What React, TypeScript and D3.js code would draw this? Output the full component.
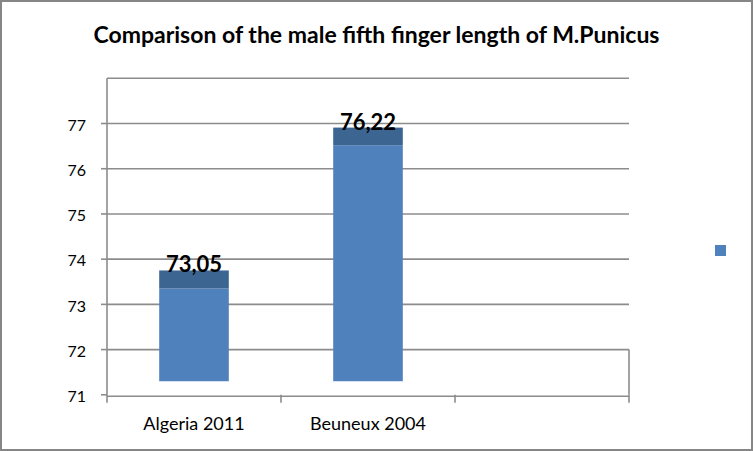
// Male fifth finger length comparison - D3 bar chart with dark top caps

import { useEffect, useRef } from "react";
import * as d3 from "d3";

const categories = ["Algeria 2011", "Beuneux 2004", ""];
const valueLabels = ["73,05", "76,22"];
// bar segments in axis units: base, light part top, dark cap top
const barBase = [71.3, 71.3];
const lowerTop = [73.35, 76.52];
const capTop = [73.75, 76.91];
const yTicks = [71, 72, 73, 74, 75, 76, 77];
const yMax = 78;

const W = 753;
const H = 451;
const FONT = "Lato, 'Open Sans', sans-serif";

export default function App() {
  const svgRef = useRef<SVGSVGElement>(null);

  useEffect(() => {
    if (!svgRef.current) return;
    const svg = d3.select(svgRef.current);
    svg.selectAll("*").remove();

    const left = 107;
    const right = 629;
    const top = 78.3;
    const bottom = 394.8;
    const grid = "#8c8c8c";

    const x = d3.scaleBand<string>().domain(categories).range([left, right]);
    const xBar = d3
      .scaleBand<string>()
      .domain(categories)
      .range([left, right])
      .paddingInner(0.6)
      .paddingOuter(0.3);
    const y = d3.scaleLinear().domain([71, yMax]).range([bottom, top]);

    // outer frame
    svg
      .append("rect")
      .attr("x", 1)
      .attr("y", 1)
      .attr("width", W - 2)
      .attr("height", H - 2)
      .attr("fill", "#fff")
      .attr("stroke", "#868686")
      .attr("stroke-width", 2);

    // title
    svg
      .append("text")
      .attr("x", W / 2)
      .attr("y", 43)
      .attr("text-anchor", "middle")
      .attr("fill", "#000")
      .style("font-family", FONT)
      .style("font-size", "23px")
      .style("font-weight", "bold")
      .text("Comparison of the male fifth finger length of M.Punicus");

    // gridlines
    svg
      .append("g")
      .selectAll("line")
      .data(yTicks.slice(1).concat([yMax]))
      .enter()
      .append("line")
      .attr("x1", left)
      .attr("x2", right)
      .attr("y1", (d) => y(d))
      .attr("y2", (d) => y(d))
      .attr("stroke", grid)
      .attr("stroke-width", 1.6);

    // right edge of the floor box
    svg
      .append("line")
      .attr("x1", right)
      .attr("x2", right)
      .attr("y1", y(72))
      .attr("y2", bottom)
      .attr("stroke", grid)
      .attr("stroke-width", 1.6);

    // y axis
    svg
      .append("line")
      .attr("x1", left)
      .attr("x2", left)
      .attr("y1", top)
      .attr("y2", bottom)
      .attr("stroke", grid)
      .attr("stroke-width", 1.6);

    const yAxis = svg.append("g");
    yAxis
      .selectAll("line")
      .data(yTicks)
      .enter()
      .append("line")
      .attr("x1", left - 6)
      .attr("x2", left)
      .attr("y1", (d) => y(d))
      .attr("y2", (d) => y(d))
      .attr("stroke", grid)
      .attr("stroke-width", 1.6);
    yAxis
      .selectAll("text")
      .data(yTicks)
      .enter()
      .append("text")
      .attr("x", left - 21)
      .attr("y", (d) => y(d))
      .attr("dy", "0.45em")
      .attr("text-anchor", "end")
      .attr("fill", "#000")
      .style("font-family", FONT)
      .style("font-size", "16px")
      .text((d) => d);

    // x axis
    svg
      .append("line")
      .attr("x1", left)
      .attr("x2", right)
      .attr("y1", bottom + 1.5)
      .attr("y2", bottom + 1.5)
      .attr("stroke", grid)
      .attr("stroke-width", 1.6);

    const xTicks = categories.map((c) => x(c) ?? 0).concat([right]);
    svg
      .append("g")
      .selectAll("line")
      .data(xTicks)
      .enter()
      .append("line")
      .attr("x1", (d) => d)
      .attr("x2", (d) => d)
      .attr("y1", bottom)
      .attr("y2", bottom + 8)
      .attr("stroke", grid)
      .attr("stroke-width", 1.6);

    svg
      .append("g")
      .selectAll("text")
      .data(categories)
      .enter()
      .append("text")
      .attr("x", (d) => (x(d) ?? 0) + x.bandwidth() / 2)
      .attr("y", 430)
      .attr("text-anchor", "middle")
      .attr("fill", "#000")
      .style("font-family", FONT)
      .style("font-size", "18px")
      .text((d) => d);

    // bars
    const bars = svg
      .append("g")
      .selectAll("g")
      .data(valueLabels)
      .enter()
      .append("g");

    bars
      .append("rect")
      .attr("x", (d, i) => xBar(categories[i]) ?? 0)
      .attr("width", xBar.bandwidth())
      .attr("y", (d, i) => y(lowerTop[i]))
      .attr("height", (d, i) => y(barBase[i]) - y(lowerTop[i]))
      .attr("fill", "#4f81bd");

    bars
      .append("rect")
      .attr("x", (d, i) => xBar(categories[i]) ?? 0)
      .attr("width", xBar.bandwidth())
      .attr("y", (d, i) => y(capTop[i]))
      .attr("height", (d, i) => y(lowerTop[i]) - y(capTop[i]))
      .attr("fill", "#3c6592");

    bars
      .append("text")
      .attr("x", (d, i) => (xBar(categories[i]) ?? 0) + xBar.bandwidth() / 2)
      .attr("y", (d, i) => y(capTop[i]) + 2)
      .attr("text-anchor", "middle")
      .attr("fill", "#000")
      .style("font-family", FONT)
      .style("font-size", "22px")
      .style("font-weight", "bold")
      .text((d) => d);

    // legend marker (no label)
    svg
      .append("rect")
      .attr("x", 715)
      .attr("y", 245)
      .attr("width", 11)
      .attr("height", 11)
      .attr("fill", "#4f81bd");
  }, []);

  return (
    <div style={{ position: "fixed", left: 0, top: 0 }}>
      <svg ref={svgRef} width={W} height={H} style={{ display: "block" }} />
    </div>
  );
}
